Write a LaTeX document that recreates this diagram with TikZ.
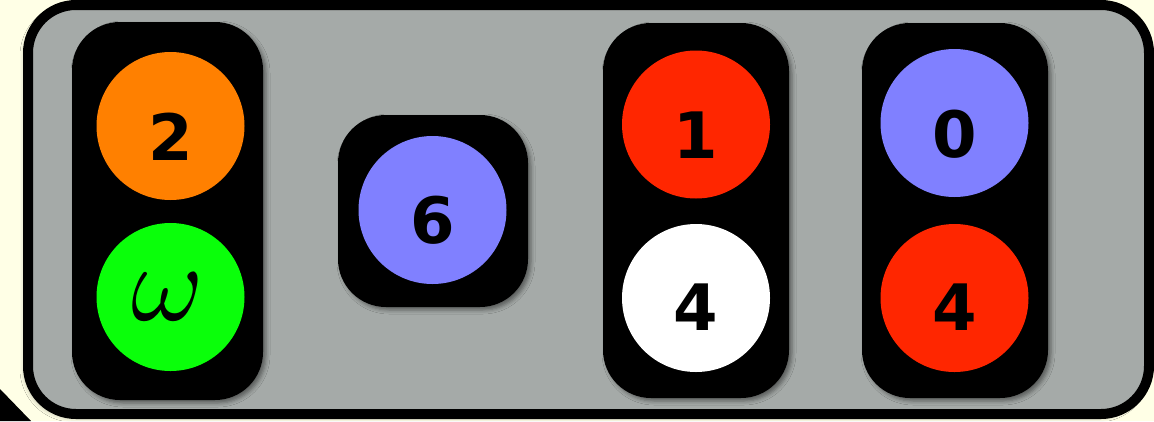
\documentclass[tikz,border=0pt]{standalone}
\usepackage{fontspec}
\usetikzlibrary{shadows.blur}
\newfontfamily\digitfont{DejaVu Sans}
\definecolor{cream}{HTML}{FFFFE6}
\definecolor{panelgray}{HTML}{A5AAA8}
\definecolor{cOrange}{HTML}{FF8000}
\definecolor{cGreen}{HTML}{0AFF0A}
\definecolor{cPurple}{HTML}{8080FF}
\definecolor{cRed}{HTML}{FF2600}
\tikzset{
  panel/.style={draw=black, line width=10pt, fill=panelgray, rounded corners=48pt,
    blur shadow={shadow xshift=-3pt, shadow yshift=-3pt, shadow blur radius=5pt, shadow opacity=35}},
  holder/.style={rectangle, fill=black, rounded corners=48pt, inner sep=0pt,
    blur shadow={shadow xshift=3pt, shadow yshift=-3pt, shadow blur radius=4pt, shadow opacity=45}},
  light/.style={circle, inner sep=0pt, minimum size=148pt},
  digit/.style={inner sep=0pt, font=\digitfont\bfseries\fontsize{64}{64}\selectfont},
}
\begin{document}
\begin{tikzpicture}[x=1pt, y=-1pt]
\useasboundingbox (0,0) rectangle (1154,421);
\fill[cream] (0,0) rectangle (1154,421);
\fill[black] (0,389) -- (31,421) -- (0,421) -- cycle;
\draw[panel] (28,5) rectangle (1149,414);
% holders
\node[holder, minimum width=191pt, minimum height=378pt] (hA) at (167.5,211) {};
\node[holder, minimum width=190pt, minimum height=192pt] (hB) at (433,211) {};
\node[holder, minimum width=186pt, minimum height=375pt] (hC) at (696,210.5) {};
\node[holder, minimum width=186pt, minimum height=375pt] (hD) at (955,210.5) {};
% lights
\node[light, fill=cOrange] (a1) at (170.5,126) {};
\node[light, fill=cGreen] (a2) at (170.5,297) {};
\node[light, fill=cPurple] (b1) at (432.5,210) {};
\node[light, fill=cRed] (c1) at (696,124.5) {};
\node[light, fill=white] (c2) at (696,298) {};
\node[light, fill=cPurple] (d1) at (954.5,123) {};
\node[light, fill=cRed] (d2) at (954.5,298) {};
% labels
\node[digit] (ta1) at ([yshift=-11pt]a1.center) {2};
\node[inner sep=0pt] (ta2) at ([xshift=-3pt]a2.center) {\scalebox{11}{$\omega$}};
\node[digit] (tb1) at ([yshift=-10pt]b1.center) {6};
\node[digit] (tc1) at ([yshift=-11pt]c1.center) {1};
\node[digit] (tc2) at ([yshift=-9pt]c2.center) {4};
\node[digit] (td1) at ([yshift=-11pt]d1.center) {0};
\node[digit] (td2) at ([yshift=-9pt]d2.center) {4};
\end{tikzpicture}
\end{document}
